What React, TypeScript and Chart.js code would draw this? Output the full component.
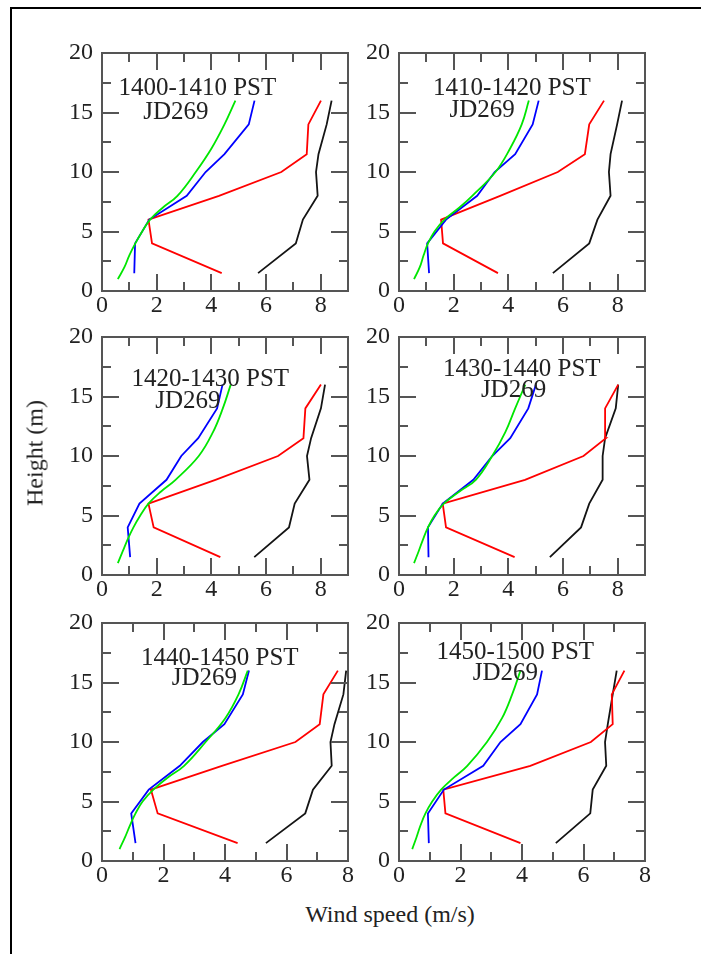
import React, { useEffect, useRef } from "react";
import { Chart, registerables } from "chart.js";

Chart.register(...registerables);

// ---------------- data ----------------
const periodLabels = [
  "1400-1410 PST",
  "1410-1420 PST",
  "1420-1430 PST",
  "1430-1440 PST",
  "1440-1450 PST",
  "1450-1500 PST",
];
const dayLabel = "JD269";

// measurement heights (m) for the measured profiles
const profileHeights = [1.5, 4, 6, 8, 10, 11.5, 14, 16];
// heights (m) for the fitted (green) profile
const fitHeights = [1, 2, 3, 4, 5, 6, 7, 8, 10, 12, 14, 16];

// wind speed (m/s) per panel
const redSpeeds = [
  [4.38, 1.83, 1.7, 4.28, 6.56, 7.49, 7.55, 8.01],
  [3.62, 1.61, 1.54, 3.7, 5.81, 6.8, 6.96, 7.5],
  [4.33, 1.89, 1.7, 4.15, 6.44, 7.37, 7.44, 8.01],
  [4.23, 1.72, 1.6, 4.61, 6.75, 7.57, 7.54, 8.02],
  [4.41, 1.81, 1.59, 3.9, 6.29, 7.08, 7.2, 7.67],
  [3.95, 1.51, 1.44, 4.27, 6.24, 6.95, 6.92, 7.33],
];
const blackSpeeds = [
  [5.71, 7.09, 7.35, 7.89, 7.83, 7.92, 8.22, 8.4],
  [5.63, 6.96, 7.26, 7.74, 7.68, 7.74, 7.98, 8.16],
  [5.57, 6.84, 7.05, 7.59, 7.5, 7.65, 8.01, 8.16],
  [5.52, 6.66, 6.96, 7.45, 7.45, 7.54, 7.93, 8.02],
  [5.33, 6.61, 6.86, 7.47, 7.43, 7.56, 7.85, 7.94],
  [5.1, 6.22, 6.3, 6.74, 6.7, 6.79, 6.95, 7.08],
];
const blueSpeeds = [
  [1.18, 1.21, 1.73, 3.1, 3.79, 4.48, 5.37, 5.58],
  [1.1, 1.03, 1.72, 2.86, 3.5, 4.25, 4.89, 5.11],
  [1.03, 0.94, 1.37, 2.36, 2.9, 3.52, 4.21, 4.41],
  [1.08, 1.06, 1.6, 2.72, 3.41, 4.07, 4.73, 5.01],
  [1.09, 0.95, 1.52, 2.53, 3.28, 3.98, 4.58, 4.78],
  [0.97, 0.94, 1.46, 2.74, 3.3, 3.95, 4.49, 4.65],
];
const greenSpeeds = [
  [0.58, 0.82, 1.0, 1.22, 1.47, 1.76, 2.22, 2.76, 3.43, 4.01, 4.48, 4.88],
  [0.55, 0.76, 0.9, 1.06, 1.3, 1.66, 2.2, 2.68, 3.53, 4.07, 4.49, 4.75],
  [0.58, 0.76, 0.94, 1.15, 1.4, 1.7, 2.15, 2.69, 3.54, 4.06, 4.42, 4.71],
  [0.55, 0.72, 0.88, 1.06, 1.3, 1.64, 2.2, 2.81, 3.41, 3.89, 4.25, 4.62],
  [0.57, 0.75, 0.91, 1.09, 1.32, 1.67, 2.13, 2.67, 3.37, 4.01, 4.44, 4.74],
  [0.43, 0.57, 0.7, 0.86, 1.08, 1.37, 1.78, 2.22, 2.86, 3.35, 3.68, 3.95],
];

const xTickValues = [0, 2, 4, 6, 8];
const yTickValues = [0, 5, 10, 15, 20];
const xMaxByRow = [9, 9, 8];
const yMax = 20;

// annotation anchors (data coordinates: [speed, height])
const titleAnchors = [
  [3.49, 17.0],
  [4.13, 17.0],
  [3.96, 16.4],
  [4.49, 17.3],
  [3.83, 17.05],
  [3.78, 17.5],
];
const dayAnchors = [
  [2.7, 15.0],
  [3.04, 15.2],
  [3.14, 14.6],
  [4.19, 15.5],
  [3.33, 15.3],
  [3.46, 15.8],
];

// ---------------- layout / style ----------------
const FONT = '"Liberation Serif", serif';
const colLefts = [102, 399];
const rowTops = [53, 337, 623];
const plotW = 246;
const plotH = 238;
const padL = 62;
const padT = 30;
const padR = 16;
const padB = 38;
const axisColor = "#555";

const framePlugin = {
  id: "frameTicks",
  afterDatasetsDraw(chart: any) {
    const { ctx, chartArea: a, scales } = chart;
    const xs = scales.x;
    const ys = scales.y;
    const idx = chart.options.plugins.frameTicks.panel;
    ctx.save();
    ctx.strokeStyle = axisColor;
    ctx.lineWidth = 2;
    ctx.beginPath();
    const xMax = xs.max;
    for (let v = 0; v <= xMax + 1e-9; v += 1) {
      const px = Math.round(xs.getPixelForValue(v));
      const len = v % 2 === 0 ? 17 : 9;
      ctx.moveTo(px, a.bottom);
      ctx.lineTo(px, a.bottom - len);
      ctx.moveTo(px, a.top);
      ctx.lineTo(px, a.top + len);
    }
    for (let v = 0; v <= yMax + 1e-9; v += 2.5) {
      const py = Math.round(ys.getPixelForValue(v));
      const len = v % 5 === 0 ? 17 : 9;
      ctx.moveTo(a.left, py);
      ctx.lineTo(a.left + len, py);
      ctx.moveTo(a.right, py);
      ctx.lineTo(a.right - len, py);
    }
    ctx.stroke();
    ctx.strokeRect(a.left, a.top, a.right - a.left, a.bottom - a.top);

    ctx.fillStyle = "#222";
    ctx.font = `25px ${FONT}`;
    ctx.textAlign = "center";
    ctx.textBaseline = "middle";
    const t = titleAnchors[idx];
    ctx.fillText(periodLabels[idx], xs.getPixelForValue(t[0]), ys.getPixelForValue(t[1]));
    const d = dayAnchors[idx];
    ctx.fillText(dayLabel, xs.getPixelForValue(d[0]), ys.getPixelForValue(d[1]));
    ctx.restore();
  },
};

function Panel({ index }: { index: number }) {
  const ref = useRef<HTMLCanvasElement>(null);
  const row = Math.floor(index / 2);
  const col = index % 2;
  const w = plotW + padL + padR;
  const h = plotH + padT + padB;

  useEffect(() => {
    if (!ref.current) return;
    const xMax = xMaxByRow[row];
    const pts = (xs: number[], hs: number[]) => xs.map((x, i) => ({ x, y: hs[i] }));
    const ds = (label: string, xs: number[], hs: number[], color: string, tension: number) => ({
      label,
      data: pts(xs, hs),
      borderColor: color,
      backgroundColor: color,
      borderWidth: 1.8,
      pointRadius: 0,
      showLine: true,
      tension,
      fill: false,
    });
    const tickFont = { family: FONT, size: 24 };
    const chart = new Chart(ref.current, {
      type: "scatter",
      data: {
        datasets: [
          ds("fit", greenSpeeds[index], fitHeights, "rgb(0,230,0)", 0.4),
          ds("blue", blueSpeeds[index], profileHeights, "rgb(0,0,255)", 0),
          ds("red", redSpeeds[index], profileHeights, "rgb(255,0,0)", 0),
          ds("black", blackSpeeds[index], profileHeights, "rgb(20,20,20)", 0),
        ],
      },
      options: {
        animation: false,
        responsive: false,
        events: [],
        layout: { padding: { left: 0, top: padT, right: padR, bottom: 0 } },
        plugins: {
          legend: { display: false },
          tooltip: { enabled: false },
          frameTicks: { panel: index },
        } as any,
        scales: {
          x: {
            type: "linear",
            min: 0,
            max: xMax,
            afterBuildTicks: (s: any) => {
              s.ticks = xTickValues.map((v) => ({ value: v }));
            },
            afterFit: (s: any) => {
              s.height = padB;
            },
            grid: { display: false, drawTicks: false },
            border: { display: false },
            ticks: { font: tickFont, color: "#222", padding: 0, maxRotation: 0 },
          },
          y: {
            type: "linear",
            min: 0,
            max: yMax,
            afterBuildTicks: (s: any) => {
              s.ticks = yTickValues.map((v) => ({ value: v }));
            },
            afterFit: (s: any) => {
              s.width = padL;
            },
            grid: { display: false, drawTicks: false },
            border: { display: false },
            ticks: { font: tickFont, color: "#222", padding: 9 },
          },
        },
      } as any,
      plugins: [framePlugin],
    });
    let alive = true;
    const redraw = () => {
      if (alive) chart.update("none");
    };
    const fonts = (document as any).fonts;
    if (fonts && fonts.ready) {
      fonts.ready.then(redraw).catch(() => {});
    }
    return () => {
      alive = false;
      chart.destroy();
    };
  }, [index]);

  return (
    <canvas
      ref={ref}
      width={w}
      height={h}
      style={{
        position: "absolute",
        left: colLefts[col] - padL,
        top: rowTops[row] - padT,
        width: w,
        height: h,
      }}
    />
  );
}

export default function App() {
  return (
    <div
      style={{
        position: "absolute",
        left: 0,
        top: 0,
        width: 701,
        height: 954,
        overflow: "hidden",
        background: "#fff",
        fontFamily: FONT,
      }}
    >
      <div
        style={{
          position: "absolute",
          left: 10,
          top: 7,
          width: 900,
          height: 1200,
          border: "2px solid #000",
        }}
      />
      {[0, 1, 2, 3, 4, 5].map((i) => (
        <Panel key={i} index={i} />
      ))}
      <div
        style={{
          position: "absolute",
          left: 35,
          top: 453,
          transform: "translate(-50%, -50%) rotate(-90deg)",
          fontSize: 24,
          color: "#222",
          whiteSpace: "nowrap",
        }}
      >
        Height (m)
      </div>
      <div
        style={{
          position: "absolute",
          left: 390,
          top: 914,
          transform: "translate(-50%, -50%)",
          fontSize: 24,
          color: "#222",
          whiteSpace: "nowrap",
        }}
      >
        Wind speed (m/s)
      </div>
    </div>
  );
}
